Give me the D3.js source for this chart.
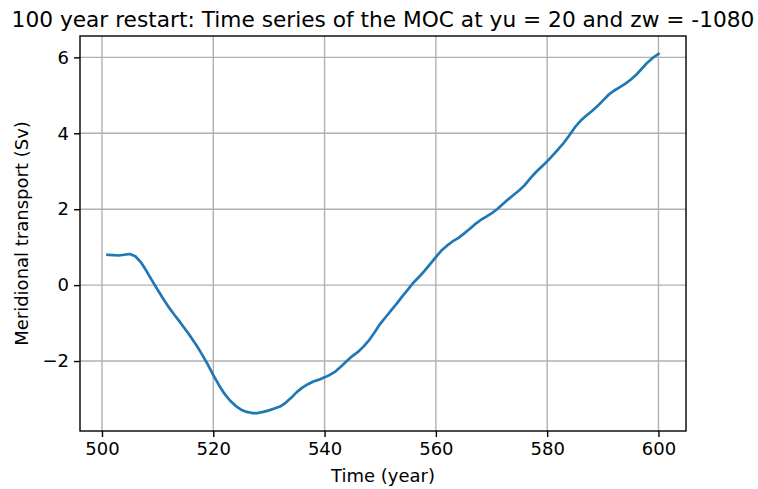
<!DOCTYPE html>
<html>
<head>
<meta charset="utf-8">
<script src="https://cdn.jsdelivr.net/npm/d3@7"></script>
<style>
  html, body { margin: 0; padding: 0; background: #fff; }
  svg { display: block; }
  text { font-family: "DejaVu Sans", sans-serif; fill: #000; }
</style>
</head>
<body>
<svg id="chart" width="758" height="489"></svg>
<script>
// MOC time series, one value per model year
const years = d3.range(501, 601);
const moc = [
  0.80, 0.79, 0.78, 0.80, 0.82, 0.76, 0.60, 0.37, 0.12, -0.12,
  -0.36, -0.58, -0.78, -0.97, -1.17, -1.37, -1.59, -1.83, -2.09, -2.37,
  -2.63, -2.86, -3.04, -3.18, -3.28, -3.34, -3.37, -3.37, -3.34, -3.30,
  -3.25, -3.20, -3.10, -2.97, -2.82, -2.70, -2.61, -2.54, -2.49, -2.43,
  -2.36, -2.27, -2.14, -2.00, -1.87, -1.76, -1.62, -1.45, -1.24, -1.02,
  -0.84, -0.66, -0.48, -0.29, -0.11, 0.07, 0.22, 0.38, 0.56, 0.74,
  0.91, 1.04, 1.15, 1.24, 1.35, 1.47, 1.60, 1.71, 1.80, 1.89,
  2.00, 2.13, 2.26, 2.38, 2.50, 2.64, 2.82, 2.98, 3.12, 3.26,
  3.42, 3.58, 3.75, 3.95, 4.16, 4.33, 4.46, 4.58, 4.71, 4.86,
  5.01, 5.12, 5.21, 5.30, 5.41, 5.54, 5.70, 5.86, 5.99, 6.09
];
const xTicks = [500, 520, 540, 560, 580, 600];
const yTicks = [-2, 0, 2, 4, 6];

const titleText = "100 year restart: Time series of the MOC at yu = 20 and zw = -1080";
const xLabel = "Time (year)";
const yLabel = "Meridional transport (Sv)";

const box = { left: 80, right: 686, top: 36, bottom: 431 };
const svg = d3.select("#chart");

// 5% padding around the data range on both axes
function padded(ext) {
  const m = (ext[1] - ext[0]) * 0.05;
  return [ext[0] - m, ext[1] + m];
}

const x = d3.scaleLinear().domain(padded(d3.extent(years))).range([box.left, box.right]);
const y = d3.scaleLinear().domain(padded(d3.extent(moc))).range([box.bottom, box.top]);

const fmt = v => (v < 0 ? "\u2212" + Math.abs(v) : String(v));

// grid
const grid = svg.append("g").attr("stroke", "#b0b0b0").attr("stroke-width", 1.4);
grid.selectAll("line.vx").data(xTicks).join("line")
  .attr("x1", d => x(d)).attr("x2", d => x(d))
  .attr("y1", box.top).attr("y2", box.bottom);
grid.selectAll("line.hy").data(yTicks).join("line")
  .attr("x1", box.left).attr("x2", box.right)
  .attr("y1", d => y(d)).attr("y2", d => y(d));

// series
const line = d3.line().x((d, i) => x(years[i])).y(d => y(d));
svg.append("path")
  .datum(moc)
  .attr("d", line)
  .attr("fill", "none")
  .attr("stroke", "#1f77b4")
  .attr("stroke-width", 2.7)
  .attr("stroke-linejoin", "round")
  .attr("stroke-linecap", "square");

// axes
const xAxis = d3.axisBottom(x).tickValues(xTicks).tickFormat(d3.format("d"))
  .tickSize(6).tickPadding(5);
const yAxis = d3.axisLeft(y).tickValues(yTicks).tickFormat(fmt)
  .tickSize(6).tickPadding(5);

const gx = svg.append("g").attr("transform", `translate(0,${box.bottom})`).call(xAxis);
const gy = svg.append("g").attr("transform", `translate(${box.left},0)`).call(yAxis);
[gx, gy].forEach(g => {
  g.select(".domain").remove();
  g.selectAll(".tick line").attr("stroke", "#000").attr("stroke-width", 1.4);
  g.selectAll(".tick text")
    .attr("font-family", "DejaVu Sans, sans-serif")
    .attr("font-size", 18)
    .attr("fill", "#000");
});

// frame
svg.append("rect")
  .attr("x", box.left).attr("y", box.top)
  .attr("width", box.right - box.left).attr("height", box.bottom - box.top)
  .attr("fill", "none").attr("stroke", "#000").attr("stroke-width", 1.4);

// labels
svg.append("text")
  .attr("x", (box.left + box.right) / 2).attr("y", 27)
  .attr("text-anchor", "middle").attr("font-size", 21.7)
  .text(titleText);

svg.append("text")
  .attr("x", (box.left + box.right) / 2).attr("y", 482)
  .attr("text-anchor", "middle").attr("font-size", 18)
  .text(xLabel);

svg.append("text")
  .attr("transform", `translate(28,${(box.top + box.bottom) / 2}) rotate(-90)`)
  .attr("text-anchor", "middle").attr("font-size", 18)
  .text(yLabel);
</script>
</body>
</html>
